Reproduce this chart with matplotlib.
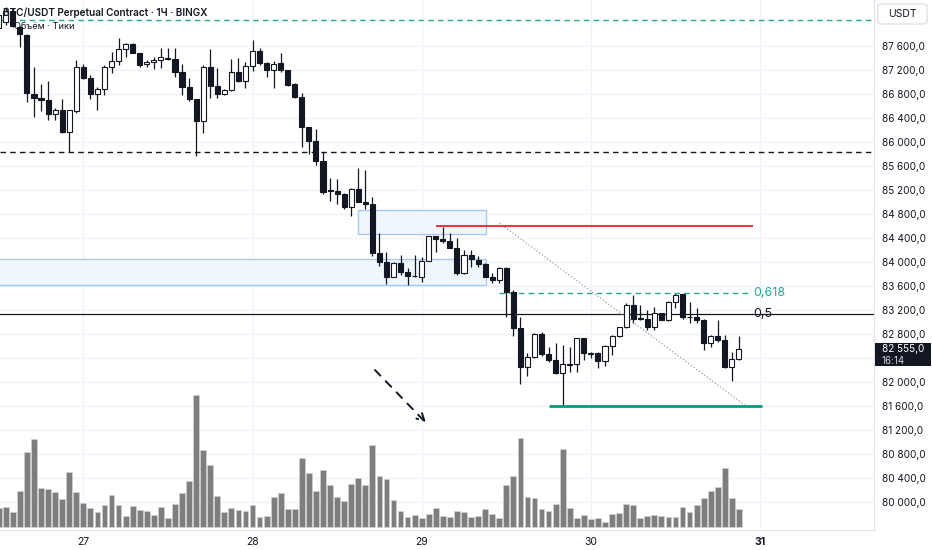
import matplotlib.pyplot as plt
import matplotlib.transforms as mtransforms
from matplotlib.patches import Rectangle, FancyBboxPatch
from matplotlib.ticker import FuncFormatter

plt.rcParams['font.family'] = ['Inter', 'DejaVu Sans']

# 1H candles, hour index counted from the 27th 00:00
hours = list(range(-12, 94))

opens = [87900, 88000, 88180, 87920, 87780, 86800, 86730, 86700, 86460, 86530, 86160, 86520,
         87255, 87070, 86800, 86880, 87255, 87350, 87545, 87630, 87490, 87295, 87330, 87365,
         87400, 87380, 87160, 86910, 86710, 86350, 87245, 86930, 86795, 86865, 87160, 87020,
         87270, 87520, 87310, 87200, 87310, 87200, 86960, 86755, 86255, 86015, 85685, 85190,
         85185, 85130, 84910, 85210, 85005, 84965, 84145, 84005, 83755, 83980, 83840, 83765,
         83755, 84020, 84435, 84380, 84355, 84240, 83810, 84115, 84035, 83965, 83755, 83700,
         83895, 83505, 82895, 82245, 82410, 82795, 82460, 82365, 82150, 82290, 82300, 82730,
         82480, 82480, 82355, 82600, 82765, 82910, 83285, 83060, 83055, 82920, 83145, 83035,
         83340, 83460, 83090, 83090, 83035, 82655, 82765, 82700, 82245, 82380]
highs = [88165, 88250, 88235, 87935, 87800, 87255, 86960, 87015, 86560, 86715, 86535, 87365,
         87295, 87115, 86910, 87285, 87505, 87730, 87655, 87655, 87490, 87365, 87420, 87560,
         87570, 87560, 87295, 87070, 86710, 87285, 87545, 87230, 86880, 87385, 87395, 87340,
         87700, 87560, 87340, 87355, 87480, 87200, 86980, 86820, 86255, 86215, 85840, 85405,
         85380, 85145, 85230, 85570, 85535, 85080, 84480, 84170, 83995, 84115, 83895, 84115,
         84080, 84440, 84440, 84590, 84490, 84395, 84200, 84200, 84100, 83980, 83810, 83910,
         83910, 83535, 83080, 82480, 82810, 82840, 82590, 82645, 82615, 82590, 82740, 82740,
         82505, 82505, 82615, 82785, 82920, 83320, 83450, 83285, 83200, 83255, 83155, 83355,
         83480, 83465, 83340, 83230, 83045, 82785, 83035, 82785, 82505, 82765]
lows = [87835, 87950, 87915, 87590, 86670, 86410, 86515, 86365, 86365, 86145, 85830, 86480,
        87050, 86715, 86535, 86785, 87145, 87285, 87410, 87490, 87255, 87245, 87215, 87230,
        87365, 87090, 86785, 86685, 85765, 86155, 86730, 86740, 86785, 86850, 87005, 86905,
        87190, 87285, 87090, 86895, 87170, 86935, 86730, 85910, 85800, 85615, 85130, 85020,
        84960, 84885, 84770, 84995, 84885, 84100, 83940, 83630, 83755, 83785, 83615, 83755,
        83660, 84020, 84170, 84310, 84230, 83785, 83800, 83920, 83910, 83745, 83655, 83655,
        83080, 82765, 81965, 82100, 82395, 82435, 82340, 82135, 81600, 82170, 82170, 82365,
        82395, 82230, 82265, 82450, 82755, 82895, 82980, 83035, 82865, 82865, 83035, 83020,
        83230, 83045, 82980, 82990, 82535, 82580, 82670, 82230, 82015, 82365]
closes = [88115, 88185, 87935, 87795, 86810, 86730, 86705, 86460, 86530, 86160, 86535, 87255,
          87070, 86800, 86880, 87255, 87350, 87545, 87630, 87490, 87285, 87330, 87365, 87410,
          87390, 87160, 86910, 86710, 86350, 87245, 86930, 86795, 86865, 87160, 87020, 87270,
          87520, 87310, 87200, 87300, 87200, 86950, 86755, 86255, 86015, 85685, 85165, 85185,
          85130, 84910, 85210, 85005, 84965, 84145, 84005, 83755, 83980, 83840, 83765, 83760,
          84020, 84435, 84380, 84355, 84240, 83810, 84115, 84045, 83965, 83755, 83700, 83895,
          83505, 82895, 82245, 82410, 82795, 82460, 82365, 82150, 82300, 82300, 82730, 82480,
          82465, 82355, 82600, 82765, 82910, 83285, 83045, 83055, 82920, 83145, 83035, 83340,
          83450, 83090, 83080, 83035, 82655, 82765, 82700, 82245, 82380, 82555]
volume = [19, 20, 15, 36, 75, 88, 39, 38, 35, 28, 55, 35,
          24, 19, 15, 22, 32, 22, 11, 21, 17, 16, 12, 20,
          9, 23, 34, 46, 132, 77, 62, 31, 15, 19, 17, 16,
          22, 10, 11, 30, 34, 18, 18, 69, 54, 36, 57, 42,
          30, 26, 43, 49, 42, 82, 51, 48, 27, 16, 10, 12,
          9, 13, 19, 11, 10, 16, 15, 10, 11, 18, 13, 9,
          42, 51, 89, 30, 29, 18, 16, 23, 78, 19, 9, 12,
          8, 9, 5, 13, 14, 23, 22, 9, 11, 12, 11, 10,
          10, 20, 15, 22, 29, 36, 40, 59, 29, 18]

day_ticks = [0, 24, 48, 72, 96]
day_labels = ['27', '28', '29', '30', '31']

# drawings on the chart
top_level = 88030
support_level = 85830
resist_level = 84600
low_level = 81600
fib_high, fib_low = 84650, 81600
box_upper = (39.0, 57.1, 84460, 84870)
box_lower = (-20, 57.1, 83615, 84050)
last_price = 82555
hidden_tick = 82400  # sits under the last-price badge


def price_fmt(v, p):
    if int(round(v)) == hidden_tick:
        return ''
    return f"{int(v):,}".replace(",", " ") + ",0"


W, H = 932, 550
fig = plt.figure(figsize=(W / 100, H / 100), dpi=100)
ax = fig.add_axes([0, 20 / H, 874 / W, 530 / H])

ax.set_xlim(-11.82, 112.16)
ax.set_ylim(79533, 88367)

ax.set_xticks(day_ticks)
ax.set_xticklabels(day_labels)
ax.set_yticks(range(80000, 87601, 400))
ax.yaxis.tick_right()
ax.yaxis.set_major_formatter(FuncFormatter(price_fmt))
ax.tick_params(axis='y', length=0, pad=5.5, labelsize=7.2, labelcolor='#131722')
ax.tick_params(axis='x', length=0, pad=5, labelsize=7.5, labelcolor='#131722')
ax.get_xticklabels()[-1].set_fontweight('bold')
ax.grid(True, color='#f0f3fa', lw=1)
ax.set_axisbelow(True)
for s in ['top', 'left']:
    ax.spines[s].set_visible(False)
ax.spines['right'].set_color('#e0e3eb')
ax.spines['bottom'].set_color('#e0e3eb')

# volume in the bottom of the pane
vtrans = mtransforms.blended_transform_factory(ax.transData, ax.transAxes)
vmax = max(volume)
ax.bar(hours, [v / vmax * 0.249 for v in volume], bottom=3 / 530, width=0.82,
       color='#7e7e7e', edgecolor='#d6d6d6', lw=0.4, transform=vtrans, zorder=1)

# boxes
for x0, x1, y0, y1 in [box_upper, box_lower]:
    ax.add_patch(Rectangle((x0, y0), x1 - x0, y1 - y0, facecolor='#f0f6fe',
                           edgecolor='#a8caf2', lw=1, zorder=1.5))

# candles
ax.vlines(hours, lows, highs, color='#131722', lw=0.9, zorder=2)
up = [c >= o for o, c in zip(opens, closes)]
bottoms = [min(o, c) for o, c in zip(opens, closes)]
heights = [max(abs(c - o), 8) for o, c in zip(opens, closes)]
ax.bar(hours, heights, bottom=bottoms, width=0.72,
       color=['white' if u else '#131722' for u in up],
       edgecolor='#131722', lw=0.8, zorder=3)

# horizontal levels
ax.axhline(top_level, color='#22ab94', ls=(0, (4, 3)), lw=1, zorder=2.5)
ax.axhline(support_level, color='#131722', ls=(0, (4, 3)), lw=1, zorder=2.5)
fib_05 = fib_low + 0.5 * (fib_high - fib_low)
fib_618 = fib_low + 0.618 * (fib_high - fib_low)
ax.axhline(fib_05, color='#131722', lw=0.9, zorder=2.5)
ax.hlines(fib_618, 59, 94.5, color='#22ab94', ls=(0, (4, 3)), lw=1, zorder=2.5)
ax.plot([59, 94], [fib_high, fib_low], color='#a0a3ab', ls=':', lw=0.9, zorder=2.5)
ax.hlines(resist_level, 50, 95, color='#f23645', lw=1.5, zorder=2.5)
ax.hlines(low_level, 66, 96.3, color='#089981', lw=2, zorder=2.5)
ax.text(95.1, fib_618, '0,618', color='#22ab94', fontsize=9, va='center', ha='left')
ax.text(95.1, fib_05, '0,5', color='#131722', fontsize=9, va='center', ha='left')

ax.annotate('', xy=(48.9, 81283), xytext=(41.1, 82233),
            arrowprops=dict(arrowstyle='->', linestyle=(0, (4, 4)), lw=1.4,
                            color='#131722', mutation_scale=14), zorder=4)

# header texts
fig.text(3 / W, 1 - 13 / H, 'BTC/USDT Perpetual Contract · 1Ч · BINGX', fontsize=7.2,
         fontweight='semibold', color='#131722', va='center', ha='left', zorder=1)
fig.text(14 / W, 1 - 26.5 / H, 'Объём · Тики', fontsize=6.6, color='#131722',
         va='center', ha='left')

# right scale extras
fig.add_artist(FancyBboxPatch((878 / W, 1 - 24 / H), 49 / W, 20 / H,
                              boxstyle='round,pad=0,rounding_size=0.004',
                              transform=fig.transFigure, facecolor='white',
                              edgecolor='#e0e3eb', lw=1))
fig.text(902 / W, 1 - 14 / H, 'USDT', fontsize=7.5, color='#131722', ha='center', va='center')

fig.add_artist(Rectangle((874.5 / W, 1 - 366 / H), 56 / W, 23.5 / H,
                         transform=fig.transFigure, facecolor='#131722', edgecolor='none'))
fig.text(881.5 / W, 1 - 348.5 / H, f"{last_price:,}".replace(",", " ") + ",0", fontsize=7.2,
         color='white', ha='left', va='center')
fig.text(881.5 / W, 1 - 360.5 / H, '16:14', fontsize=7, color='#d0d3da', ha='left', va='center')

fig.savefig('out.png', dpi=100, facecolor='white')
